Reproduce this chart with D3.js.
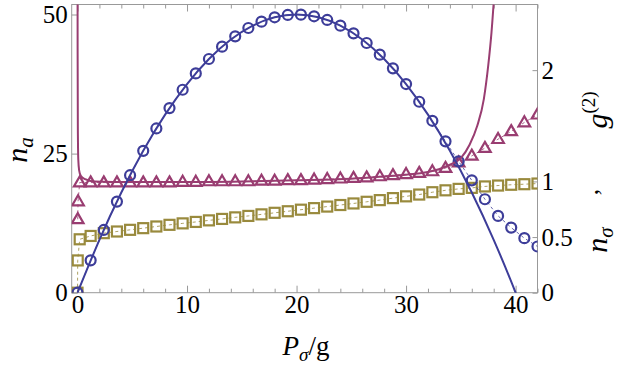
<!DOCTYPE html>
<html lang="en">
<head>
<meta charset="UTF-8">
<title>n_a, n_sigma, g2 vs P_sigma/g</title>
<script src="https://cdn.jsdelivr.net/npm/d3@7"></script>
<style>
  body { margin: 0; background: #fff; }
  svg text { font-family: "Times New Roman", "Liberation Serif", Tinos, "DejaVu Serif", serif; fill: #000; }
</style>
</head>
<body>
<div id="chart"></div>
<script>
// pump values where markers were computed
const markP = [0, 0.02, 0.05, 0.2, 1.2, 2.4, 3.6, 4.8, 6, 7.2, 8.4, 9.6, 10.8, 12, 13.2, 14.4, 15.6,
  16.8, 18, 19.2, 20.4, 21.6, 22.8, 24, 25.2, 26.4, 27.6, 28.8, 30, 31.2, 32.4, 33.6, 34.8,
  36, 37.2, 38.4, 39.6, 40.8, 42];
// n_a (left axis), circles
const naMarks = [0, null, null, null, 5.82, 11.28, 16.38, 21.12, 25.5, 29.52, 33.18, 36.48, 39.42,
  42, 44.22, 46.08, 47.58, 48.72, 49.5, 49.92, 49.98, 49.68, 49.02, 48, 46.62, 44.88, 42.78,
  40.32, 37.5, 34.32, 30.9, 27.2, 23.6, 20.2, 16.8, 13.8, 11.7, 9.8, 8.3];
// g2 (right axis), triangles
const g2Marks = [null, 0.66, 0.82, 0.99, 0.99, 0.99, 0.99, 0.99, 0.99, 0.99, 0.99, 0.995, 0.995,
  1.0, 1.0, 1.0, 1.0, 1.005, 1.005, 1.01, 1.01, 1.015, 1.02, 1.025, 1.03, 1.035, 1.045,
  1.055, 1.065, 1.075, 1.09, 1.12, 1.17, 1.23, 1.30, 1.38, 1.45, 1.53, 1.60];
// n_sigma (right axis), squares
const nsMarks = [0, 0.29, null, 0.48, 0.51, 0.535, 0.55, 0.565, 0.58, 0.595, 0.61, 0.623, 0.636,
  0.65, 0.663, 0.677, 0.69, 0.704, 0.718, 0.732, 0.746, 0.76, 0.774, 0.788, 0.802, 0.817,
  0.832, 0.85, 0.866, 0.882, 0.903, 0.92, 0.933, 0.942, 0.955, 0.963, 0.97, 0.975, 0.981];

// theory curves
const naLineP = [0, 2, 4, 6, 8, 10, 12, 14, 16, 18, 20, 22, 24, 26, 28, 30, 32, 34, 36, 38, 40, 42];
const naLine = [0, 9.5, 18, 25.5, 32, 37.5, 42, 45.5, 48, 49.5, 50, 49.5, 48, 45.5, 42, 37.5,
  32, 25.5, 18, 9.5, 0, -10.5];
const g2LineP = [0.003, 0.01, 0.03, 0.07, 0.15, 0.3, 0.7, 1.5, 5, 10, 15, 20, 25, 28, 30, 32,
  33, 34, 35, 35.8, 36.5, 37.1, 37.5, 37.8, 38.1];
const g2Line = [3.2, 2.2, 1.5, 1.2, 1.1, 1.05, 1.02, 1.0, 0.995, 0.995, 1.0, 1.01, 1.025, 1.045,
  1.06, 1.085, 1.11, 1.15, 1.21, 1.33, 1.5, 1.74, 2.04, 2.34, 2.75];

const xTicks = [0, 10, 20, 30, 40];
const xMinor = [2, 4, 6, 8, 12, 14, 16, 18, 22, 24, 26, 28, 32, 34, 36, 38, 42];
const leftTicks = [0, 25, 50];
const rightTicks = [0, 0.5, 1, 2];

const W = 623, H = 365;
const blue = "#3d3d99", purple = "#993d71", gold = "#998a3d", frameCol = "#999";
const serif = '"Times New Roman", "Liberation Serif", Tinos, "DejaVu Serif", serif';

const svg = d3.select("#chart").append("svg")
  .attr("width", W).attr("height", H);

const x = d3.scaleLinear().domain([-0.53, 42]).range([71.7, 537.5]);
const yL = d3.scaleLinear().domain([0, 51.8]).range([292.7, 4.5]);
const yR = d3.scaleLinear().domain([0, 2.59]).range([292.7, 4.5]);

const [x0, x1] = x.range();
const [yb, yt] = yL.range();

svg.append("defs").append("clipPath").attr("id", "plot")
  .append("rect").attr("x", x0).attr("y", yt).attr("width", x1 - x0).attr("height", yb - yt);

// axes
function styleAxis(g) {
  g.attr("font-family", serif).attr("font-size", 25);
  g.select(".domain").remove();
  g.selectAll("line").attr("stroke", frameCol);
  g.selectAll("text").style("font-size", "25px").style("font-family", serif);
}
svg.append("g").attr("transform", `translate(0,${yb})`)
  .call(d3.axisBottom(x).tickValues(xTicks).tickSize(-7).tickPadding(3))
  .call(styleAxis);
svg.append("g").attr("transform", `translate(0,${yb})`)
  .call(d3.axisBottom(x).tickValues(xMinor).tickSize(-4).tickFormat(""))
  .call(styleAxis);
svg.append("g").attr("transform", `translate(0,${yt})`)
  .call(d3.axisTop(x).tickValues(xTicks).tickSize(-7).tickFormat(""))
  .call(styleAxis);
svg.append("g").attr("transform", `translate(0,${yt})`)
  .call(d3.axisTop(x).tickValues(xMinor).tickSize(-4).tickFormat(""))
  .call(styleAxis);
svg.append("g").attr("transform", `translate(${x0},0)`)
  .call(d3.axisLeft(yL).tickValues(leftTicks).tickSize(-6).tickPadding(4))
  .call(styleAxis);
svg.append("g").attr("transform", `translate(${x1},0)`)
  .call(d3.axisRight(yR).tickValues(rightTicks).tickSize(-5).tickPadding(4).tickFormat(d => String(d)))
  .call(styleAxis);

svg.append("rect").attr("x", x0).attr("y", yt)
  .attr("width", x1 - x0).attr("height", yb - yt)
  .attr("fill", "none").attr("stroke", frameCol).attr("stroke-width", 1);

const plot = svg.append("g").attr("clip-path", "url(#plot)");

function markSeries(vals) {
  return markP.map((p, i) => [p, vals[i]]).filter(d => d[1] !== null);
}
function dashed(data, yScale, col) {
  plot.append("path")
    .attr("d", d3.line().x(d => x(d[0])).y(d => yScale(d[1]))(data))
    .attr("fill", "none").attr("stroke", col).attr("stroke-width", 1)
    .attr("stroke-dasharray", "3,3").attr("opacity", 0.8);
}

// squares
const sq = markSeries(nsMarks);
dashed(sq, yR, gold);
plot.selectAll(".sq").data(sq).join("rect")
  .attr("x", d => x(d[0]) - 5).attr("y", d => yR(d[1]) - 5)
  .attr("width", 10).attr("height", 10)
  .attr("fill", "none").attr("stroke", gold).attr("stroke-width", 2.2);

// triangles
const tri = markSeries(g2Marks);
dashed(tri, yR, purple);
const triPath = d3.symbol().type(d3.symbolTriangle).size(58);
plot.selectAll(".tri").data(tri).join("path")
  .attr("d", triPath)
  .attr("transform", d => `translate(${x(d[0])},${yR(d[1]) + 0.5})`)
  .attr("fill", "none").attr("stroke", purple).attr("stroke-width", 2.2);

// circles
const circ = markSeries(naMarks);
dashed(circ, yL, blue);
plot.selectAll(".circ").data(circ).join("circle")
  .attr("cx", d => x(d[0])).attr("cy", d => yL(d[1])).attr("r", 5)
  .attr("fill", "none").attr("stroke", blue).attr("stroke-width", 2.2);

// theory lines
plot.append("path")
  .attr("d", d3.line().curve(d3.curveMonotoneX)
    .x((d, i) => x(g2LineP[i])).y(d => yR(d))(g2Line))
  .attr("fill", "none").attr("stroke", purple).attr("stroke-width", 2);
plot.append("path")
  .attr("d", d3.line().curve(d3.curveNatural)
    .x((d, i) => x(naLineP[i])).y(d => yL(d))(naLine))
  .attr("fill", "none").attr("stroke", blue).attr("stroke-width", 2);

// axis titles
const xl = svg.append("text").attr("x", 306).attr("y", 355)
  .attr("text-anchor", "middle").style("font-size", "27px");
xl.append("tspan").style("font-style", "italic").text("P");
xl.append("tspan").style("font-style", "italic").style("font-size", "19px").attr("dy", 6).text("σ");
xl.append("tspan").attr("dy", -6).text("/g");

const yl = svg.append("text").attr("transform", "translate(27,150) rotate(-90)")
  .attr("text-anchor", "middle").style("font-size", "30px");
yl.append("tspan").style("font-style", "italic").text("n");
yl.append("tspan").style("font-style", "italic").style("font-size", "21px").attr("dy", 6).text("a");

const yr1 = svg.append("text").attr("transform", "translate(607,240) rotate(-90)")
  .attr("text-anchor", "middle").style("font-size", "30px");
yr1.append("tspan").style("font-style", "italic").text("n");
yr1.append("tspan").style("font-style", "italic").style("font-size", "21px").attr("dy", 6).text("σ");

svg.append("text").attr("transform", "translate(598,192) rotate(-90)")
  .attr("text-anchor", "middle").style("font-size", "26px").text(",");

const yr2 = svg.append("text").attr("transform", "translate(607,110) rotate(-90)")
  .attr("text-anchor", "middle").style("font-size", "30px");
yr2.append("tspan").style("font-style", "italic").text("g");
yr2.append("tspan").style("font-size", "19px").attr("dy", -12).text("(2)");
</script>
</body>
</html>
